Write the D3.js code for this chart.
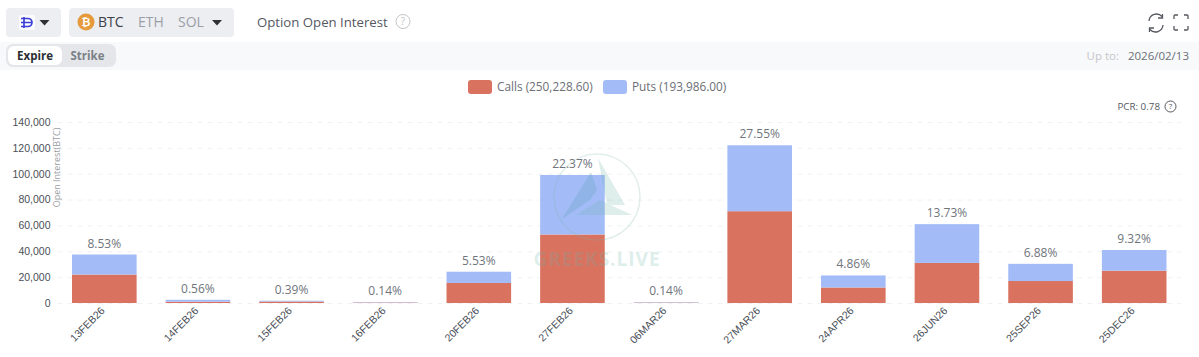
<!DOCTYPE html>
<html><head><meta http-equiv="Content-Type" content="text/html; charset=UTF-8">
<style>
html, body { margin: 0; padding: 0; background: #fff; }
svg { display: block; font-family: "Open Sans", sans-serif; }
.grid line { stroke: #eff1f3; stroke-width: 1; stroke-dasharray: 5 5; }
.tick-label { fill: #4a4f57; }
.axis path, .axis line { display: none; }
.pct { font-size: 12px; fill: #70757c; text-anchor: middle; }
</style>
</head>
<body>
<svg width="1199" height="357"></svg>
<script src="https://cdn.jsdelivr.net/npm/d3@7"></script>
<script>

var expiries = ["13FEB26", "14FEB26", "15FEB26", "16FEB26", "20FEB26", "27FEB26", "06MAR26", "27MAR26", "24APR26", "26JUN26", "25SEP26", "25DEC26"];
var calls = [22000, 1000, 1100, 350, 15500, 53000, 320, 71000, 12000, 31000, 17000, 25000];
var puts = [15500, 1500, 650, 270, 8700, 46000, 300, 51000, 9300, 30000, 13300, 16000];
var shares = ["8.53%", "0.56%", "0.39%", "0.14%", "5.53%", "22.37%", "0.14%", "27.55%", "4.86%", "13.73%", "6.88%", "9.32%"];
var yTicks = [0, 20000, 40000, 60000, 80000, 100000, 120000, 140000];

var svg = d3.select("svg");

// header controls
function pill(x, y, w, h, fill, r) {
  svg.append("rect").attr("x", x).attr("y", y).attr("width", w).attr("height", h)
    .attr("rx", r || 4).attr("fill", fill);
}
function label(x, y, str, size, color, weight, anchor) {
  return svg.append("text").attr("x", x).attr("y", y).text(str)
    .attr("font-size", size).attr("fill", color)
    .attr("font-weight", weight || 400).attr("text-anchor", anchor || "start");
}
function caret(cx, cy) {
  svg.append("path").attr("d", "M" + (cx - 5) + "," + (cy - 3) + "h10l-5,5.5z").attr("fill", "#2f3136");
}
function help(cx, cy, r, color, size) {
  svg.append("circle").attr("cx", cx).attr("cy", cy).attr("r", r)
    .attr("fill", "none").attr("stroke", color).attr("stroke-width", 1);
  label(cx, cy + size * 0.36, "?", size, color, 400, "middle");
}

pill(6, 8, 55, 29, "#eceef2");
pill(69, 8, 165, 29, "#eceef2");
pill(19, 15, 16, 15, "#fbfbfe", 2);
svg.append("path")
  .attr("d", "M21,18.5h7a4,4 0 0 1 0,8h-7M21,22.5h11M24,17v11")
  .attr("fill", "none").attr("stroke", "#3b3fd8").attr("stroke-width", 1.7);
caret(44.5, 23);
svg.append("circle").attr("cx", 86).attr("cy", 22).attr("r", 8.5).attr("fill", "#e59a3c");
label(86, 26, "₿", 11, "#fff", 700, "middle");
label(98, 27, "BTC", 14, "#3d4047");
label(138, 27, "ETH", 14, "#9b9ea5");
label(178, 27, "SOL", 14, "#9b9ea5");
caret(217, 23);
label(257, 27, "Option Open Interest", 13.2, "#55585f");
help(403, 21.5, 7, "#c2c4c8", 10);

// refresh + fullscreen
svg.append("path")
  .attr("d", "M1149,21a7.5,7.5 0 0 1 13,-4.5M1162.5,14v4h-4.5M1163,25a7.5,7.5 0 0 1 -13,4.5M1149.5,32v-4h4.5")
  .attr("fill", "none").attr("stroke", "#55585f").attr("stroke-width", 1.3);
svg.append("path")
  .attr("d", "M1174,19v-3a1,1 0 0 1 1,-1h3M1184,15h3a1,1 0 0 1 1,1v3M1188,26v3a1,1 0 0 1 -1,1h-3M1178,30h-3a1,1 0 0 1 -1,-1v-3")
  .attr("fill", "none").attr("stroke", "#55585f").attr("stroke-width", 1.3);

// toolbar strip
svg.append("rect").attr("x", 0).attr("y", 42).attr("width", 1199).attr("height", 28).attr("fill", "#f8f9fb");
pill(6, 44, 110, 23, "#e4e6ea", 7);
pill(8, 46, 54, 19, "#ffffff", 6);
label(35, 60, "Expire", 11.5, "#2b2e33", 700, "middle");
label(87.5, 60, "Strike", 11.5, "#7b7f86", 700, "middle");
label(1119, 60, "Up to:", 11.5, "#c4c6ca", 400, "end");
label(1189, 60, "2026/02/13", 11.5, "#6b6e75", 400, "end");

// legend
pill(468, 80, 24, 14, "#d9725f", 3);
label(497, 90.5, "Calls (250,228.60)", 11.8, "#6b6e75");
pill(603, 80, 24, 14, "#a3bcf7", 3);
label(632, 90.5, "Puts (193,986.00)", 11.8, "#6b6e75");

// PCR
label(1160, 110, "PCR: 0.78", 9.8, "#55585f", 400, "end");
help(1170.5, 106.5, 5.5, "#55585f", 8);

var margin = {top: 122, left: 57.5, right: 18, bottom: 54},
    width = 1199 - margin.left - margin.right,
    height = 357 - margin.top - margin.bottom,
    g = svg.append("g").attr("transform", "translate(" + margin.left + "," + margin.top + ")");

var x = d3.scaleBand().domain(expiries).range([0, width]).paddingInner(0.31).paddingOuter(0.155),
    y = d3.scaleLinear().domain([0, 140000]).range([height, 0]);

g.append("g").attr("class", "grid")
  .selectAll("line").data(yTicks).enter().append("line")
    .attr("x1", 0).attr("x2", width)
    .attr("y1", function(d) { return y(d) + 0.5; })
    .attr("y2", function(d) { return y(d) + 0.5; });

var yAxis = g.append("g").attr("class", "axis")
  .call(d3.axisLeft(y).tickValues(yTicks).tickSize(0).tickPadding(7).tickFormat(d3.format(",")));
yAxis.selectAll("text").attr("class", "tick-label").style("font-family", "inherit").style("font-size", "10.5px");

g.append("text")
  .attr("transform", "translate(2.5," + (y(70000) - 45) + ") rotate(-90)")
  .attr("text-anchor", "middle").attr("font-size", 9).attr("fill", "#9a9da3")
  .text("Open Interest(BTC)");

var xAxis = g.append("g").attr("class", "axis")
  .attr("transform", "translate(0," + height + ")")
  .call(d3.axisBottom(x).tickSize(0));
xAxis.selectAll("text").attr("class", "tick-label")
  .style("font-family", "inherit").style("font-size", "10.5px")
  .attr("text-anchor", "end")
  .attr("transform", "rotate(-45)")
  .attr("x", -5).attr("y", 3).attr("dy", "0.35em");

var bars = g.selectAll(".bar").data(expiries).enter().append("g").attr("class", "bar");

bars.append("rect")
  .attr("x", function(d) { return x(d); })
  .attr("width", x.bandwidth())
  .attr("y", function(d, i) { return y(calls[i]); })
  .attr("height", function(d, i) { return height - y(calls[i]); })
  .attr("fill", "#d9725f");

bars.append("rect")
  .attr("x", function(d) { return x(d); })
  .attr("width", x.bandwidth())
  .attr("y", function(d, i) { return y(calls[i] + puts[i]); })
  .attr("height", function(d, i) { return y(calls[i]) - y(calls[i] + puts[i]); })
  .attr("fill", "#a3bcf7");

bars.append("text").attr("class", "pct")
  .attr("x", function(d) { return x(d) + x.bandwidth() / 2; })
  .attr("y", function(d, i) { return y(calls[i] + puts[i]) - 7; })
  .text(function(d, i) { return shares[i]; });

// watermark
var wm = svg.append("g").attr("opacity", 0.22);
wm.append("circle").attr("cx", 597).attr("cy", 197).attr("r", 43)
  .attr("fill", "none").attr("stroke", "#7fb5ad").attr("stroke-width", 1.5);
wm.append("path").attr("d", "M591,172L562,219L590,200L597,190z").attr("fill", "#4f9aa8");
wm.append("path").attr("d", "M598,158L625,205L607,205z").attr("fill", "#6fb3a8");
wm.append("path").attr("d", "M576,215L600,200L632,215z").attr("fill", "#6fb3a8");
wm.append("text").attr("x", 597).attr("y", 266).attr("text-anchor", "middle")
  .attr("font-size", 19).attr("font-weight", 700).attr("letter-spacing", 1).attr("fill", "#6fb3a8").text("GREEKS.LIVE");

</script>
</body></html>
